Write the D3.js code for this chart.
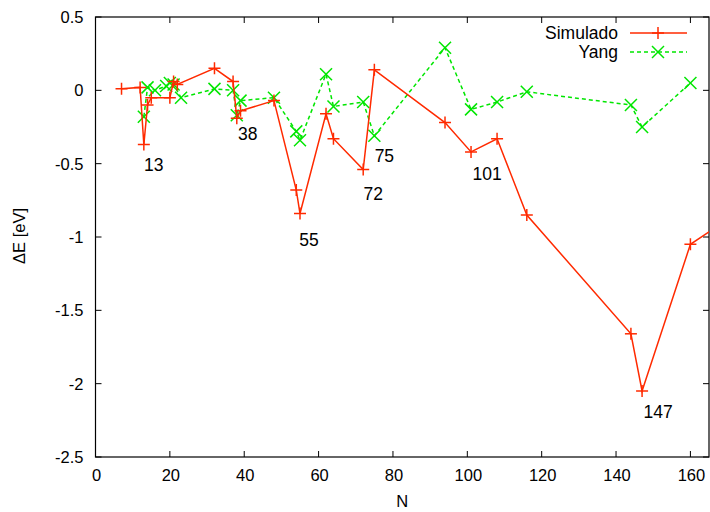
<!DOCTYPE html>
<html><head><meta charset="utf-8">
<script src="https://cdn.jsdelivr.net/npm/d3@7"></script>
<style>body{margin:0;background:#fff}svg{display:block}text{font-family:"Liberation Sans",Arial,sans-serif}</style>
</head><body><svg id="c" width="710" height="512"></svg>
<script>
const simN = [7,12,13,14,15,20,21,22,32,37,38,39,48,54,55,62,64,72,75,94,101,108,116,144,147,160,170];
const simE = [0.01,0.02,-0.37,-0.10,-0.05,-0.05,0.06,0.04,0.15,0.06,-0.19,-0.14,-0.07,-0.68,-0.84,-0.16,-0.33,-0.54,0.14,-0.22,-0.42,-0.33,-0.85,-1.66,-2.05,-1.05,-0.88];
const yangN = [13,14,16,19,20,21,23,32,37,38,39,48,54,55,62,64,72,75,94,101,108,116,144,147,160];
const yangE = [-0.18,0.02,0.0,0.03,0.05,0.04,-0.05,0.01,0.0,-0.17,-0.07,-0.05,-0.28,-0.34,0.11,-0.11,-0.08,-0.31,0.29,-0.13,-0.08,-0.01,-0.10,-0.25,0.05];
const xTicks = [0,20,40,60,80,100,120,140,160];
const yTicks = [0.5,0,-0.5,-1,-1.5,-2,-2.5];
const annN = [13,38,55,72,75,101,147];
const annE = [-0.37,-0.19,-0.84,-0.54,-0.31,-0.42,-2.05];
const annDx = [10,11,9,10,10,16,16];
const annDy = [26,22,32,30,26,28,27];

const svg = d3.select("#c");
const L=95.5, R=709, T=17, B=457;
const x = d3.scaleLinear().domain([0,165]).range([L,R]);
const y = d3.scaleLinear().domain([-2.5,0.5]).range([B,T]);
const red="#ff2a00", green="#00e600";

svg.append("defs").append("clipPath").attr("id","clip").append("rect")
  .attr("x",L).attr("y",T).attr("width",R-L).attr("height",B-T);

const tk=6;
const g=svg.append("g").attr("stroke","#000").attr("stroke-width",1);
xTicks.forEach(v=>{
  g.append("line").attr("x1",x(v)).attr("x2",x(v)).attr("y1",B).attr("y2",B-tk);
  g.append("line").attr("x1",x(v)).attr("x2",x(v)).attr("y1",T).attr("y2",T+tk);
});
yTicks.forEach(v=>{
  g.append("line").attr("x1",L).attr("x2",L+tk).attr("y1",y(v)).attr("y2",y(v));
  g.append("line").attr("x1",R).attr("x2",R-tk).attr("y1",y(v)).attr("y2",y(v));
});
svg.append("rect").attr("x",L).attr("y",T).attr("width",R-L).attr("height",B-T)
  .attr("fill","none").attr("stroke","#000").attr("stroke-width",1.2);

svg.selectAll(".xl").data(xTicks).enter().append("text")
  .attr("x",d=>x(d)+1).attr("y",B+24).attr("text-anchor","middle").attr("font-size",16.5).text(d=>d);
svg.selectAll(".yl").data(yTicks).enter().append("text")
  .attr("x",L-12).attr("y",d=>y(d)+6).attr("text-anchor","end").attr("font-size",16.5).text(d=>d);
svg.append("text").attr("x",(L+R)/2).attr("y",507).attr("text-anchor","middle").attr("font-size",16.5).text("N");
svg.append("text").attr("transform",`translate(25,${(T+B)/2-1}) rotate(-90)`).attr("text-anchor","middle").attr("font-size",16.5).text("ΔE [eV]");

const sim = simN.map((n,i)=>[n,simE[i]]);
const yang = yangN.map((n,i)=>[n,yangE[i]]);
const line = d3.line().x(d=>x(d[0])).y(d=>y(d[1]));
const plot = svg.append("g").attr("clip-path","url(#clip)");

function plus(sel,cx,cy,c){
  sel.append("line").attr("x1",cx-6).attr("x2",cx+6).attr("y1",cy).attr("y2",cy).attr("stroke",c).attr("stroke-width",1.5);
  sel.append("line").attr("x1",cx).attr("x2",cx).attr("y1",cy-6).attr("y2",cy+6).attr("stroke",c).attr("stroke-width",1.5);
}
function cross(sel,cx,cy,c){
  sel.append("line").attr("x1",cx-6).attr("x2",cx+6).attr("y1",cy-6).attr("y2",cy+6).attr("stroke",c).attr("stroke-width",1.5);
  sel.append("line").attr("x1",cx-6).attr("x2",cx+6).attr("y1",cy+6).attr("y2",cy-6).attr("stroke",c).attr("stroke-width",1.5);
}

plot.append("path").attr("d",line(yang)).attr("fill","none").attr("stroke",green).attr("stroke-width",1.5).attr("stroke-dasharray","4,3");
yang.forEach(d=>cross(plot,x(d[0]),y(d[1]),green));
plot.append("path").attr("d",line(sim)).attr("fill","none").attr("stroke",red).attr("stroke-width",1.5);
sim.forEach(d=>plus(plot,x(d[0]),y(d[1]),red));

annN.forEach((n,i)=>{
  svg.append("text").attr("x",x(n)+annDx[i]).attr("y",y(annE[i])+annDy[i]).attr("text-anchor","middle").attr("font-size",17.5).text(n);
});

svg.append("text").attr("x",618).attr("y",39).attr("text-anchor","end").attr("font-size",17.5).text("Simulado");
svg.append("line").attr("x1",630).attr("x2",687).attr("y1",33).attr("y2",33).attr("stroke",red).attr("stroke-width",1.5);
plus(svg,658,33,red);
svg.append("text").attr("x",618).attr("y",58).attr("text-anchor","end").attr("font-size",17.5).text("Yang");
svg.append("line").attr("x1",630).attr("x2",687).attr("y1",52).attr("y2",52).attr("stroke",green).attr("stroke-width",1.5).attr("stroke-dasharray","4,3");
cross(svg,658,52,green);
</script></body></html>
